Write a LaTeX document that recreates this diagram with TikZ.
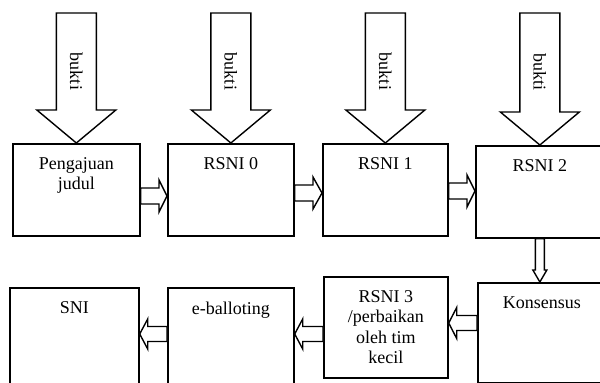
\documentclass[tikz,border=0pt]{standalone}
\usepackage{fontspec}
\setmainfont{Liberation Serif}
\usetikzlibrary{calc}

\tikzset{
  stage/.style={draw, line width=1.7pt, anchor=north west, inner sep=0pt},
  inside/.style={anchor=north, align=center, yshift=-11pt},
  hollowline/.style={draw, line width=1.4pt, fill=white, line join=miter}
}

% hollow arrow: from, to, half shaft, half head, head length
\newcommand{\hollow}[5]{%
  \coordinate (hb) at ($(#2)!#5!(#1)$);
  \path[hollowline] ($(#1)!#3!90:(#2)$) -- ($(hb)!#3!90:(#2)$) -- ($(hb)!#4!90:(#2)$)
    -- (#2) -- ($(hb)!#4!-90:(#2)$) -- ($(hb)!#3!-90:(#2)$) -- ($(#1)!#3!-90:(#2)$) -- cycle;
}

\begin{document}
\begin{tikzpicture}[x=1pt, y=-1pt, font=\fontsize{18pt}{20.5pt}\selectfont]
        \useasboundingbox (0,0) rectangle (600,383);
        \clip (0,0) rectangle (600,383);

        \node [stage, minimum width=127pt, minimum height=92pt, label={[inside]north:{Pengajuan\\judul}}] (p0) at (12,143) {};
        \node [stage, minimum width=126pt, minimum height=92pt, label={[inside]north:{RSNI 0}}] (p1) at (167,143) {};
        \node [stage, minimum width=125pt, minimum height=92pt, label={[inside]north:{RSNI 1}}] (p2) at (322,143) {};
        \node [stage, minimum width=128pt, minimum height=92pt, label={[inside]north:{RSNI 2}}] (p3) at (475,145) {};

        \node [stage, minimum width=129pt, minimum height=110pt, label={[inside]north:{SNI}}] (q0) at (9,287) {};
        \node [stage, minimum width=126pt, minimum height=110pt, label={[inside]north:{e-balloting}}] (q1) at (167,287) {};
        \node [stage, minimum width=124pt, minimum height=101pt, label={[inside]north:{RSNI 3\\/perbaikan\\oleh tim\\kecil}}] (q2) at (323,276) {};
        \node [stage, minimum width=128pt, minimum height=100pt, label={[inside]north:{Konsensus}}] (q3) at (477,282) {};

        \foreach \i in {0,...,3} {
          \coordinate (b\i) at (p\i.north |- 0,13);
          \hollow{b\i}{p\i.north}{20pt}{39.5pt}{33pt}
          \node [rotate=-90] at ($(b\i)!.45!(p\i.north)$) {bukti};
        }

        \hollow{p0.east |- 0,196}{p1.west |- 0,196}{8pt}{16pt}{8pt}
        \hollow{p1.east |- 0,193}{p2.west |- 0,193}{8pt}{16pt}{9pt}
        \hollow{p2.east |- 0,191}{p3.west |- 0,191}{8pt}{16pt}{8pt}

        \hollow{p3.south}{p3.south |- q3.north}{4.5pt}{7pt}{12pt}

        \hollow{q3.west |- 0,323}{q2.east |- 0,323}{7.5pt}{15.5pt}{8pt}
        \hollow{q2.west |- 0,334}{q1.east |- 0,334}{7.5pt}{15pt}{8pt}
        \hollow{q1.west |- 0,334}{q0.east |- 0,334}{7.5pt}{15pt}{8pt}
      \end{tikzpicture}
\end{document}
